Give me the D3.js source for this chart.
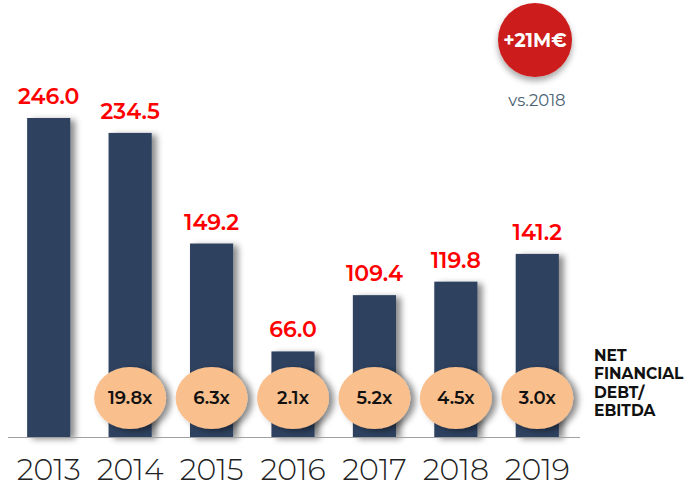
<!DOCTYPE html>
<html>
<head>
<meta charset="utf-8">
<script src="https://cdn.jsdelivr.net/npm/d3@7"></script>
<style>
  body { margin: 0; background: #fff; }
  svg text { font-family: "Montserrat", "Open Sans", sans-serif; }
</style>
</head>
<body>
<div id="wrapper"></div>
<script>
const years = ["2013", "2014", "2015", "2016", "2017", "2018", "2019"];
const debt = [246.0, 234.5, 149.2, 66.0, 109.4, 119.8, 141.2];
const ratioYears = ["2014", "2015", "2016", "2017", "2018", "2019"];
const ratios = ["19.8x", "6.3x", "2.1x", "5.2x", "4.5x", "3.0x"];
const ratioLabel = ["NET", "FINANCIAL", "DEBT/", "EBITDA"];
const badgeText = "+21M€";
const badgeSub = "vs.2018";

let dimensions = {
    width: 689,
    height: 489,
    baseline: 437,
}

const svg = d3.select("#wrapper")
    .append("svg")
    .attr("width", dimensions.width)
    .attr("height", dimensions.height)

const defs = svg.append("defs")
defs.append("filter")
    .attr("id", "shadow")
    .attr("x", "-30%").attr("y", "-10%")
    .attr("width", "170%").attr("height", "130%")
    .append("feDropShadow")
    .attr("dx", 5).attr("dy", 2)
    .attr("stdDeviation", 3)
    .attr("flood-color", "#000")
    .attr("flood-opacity", 0.45)

defs.append("filter")
    .attr("id", "badgeShadow")
    .attr("x", "-30%").attr("y", "-30%")
    .attr("width", "160%").attr("height", "170%")
    .append("feDropShadow")
    .attr("dx", 0).attr("dy", 4)
    .attr("stdDeviation", 3)
    .attr("flood-color", "#000")
    .attr("flood-opacity", 0.35)

const xScale = d3.scaleBand()
    .domain(years)
    .range([8, 578])
    .paddingInner(0.47)
    .paddingOuter(0.235)

const yScale = d3.scaleLinear()
    .domain([0, 246])
    .range([dimensions.baseline, 118])

// bars
svg.append("g")
    .selectAll("rect")
    .data(debt)
    .join("rect")
    .attr("x", (d, i) => xScale(years[i]))
    .attr("y", d => yScale(d))
    .attr("width", xScale.bandwidth())
    .attr("height", d => dimensions.baseline - yScale(d))
    .attr("fill", "#2e4261")
    .attr("filter", "url(#shadow)")

// baseline
svg.append("line")
    .attr("x1", 8).attr("x2", 580)
    .attr("y1", dimensions.baseline + 0.5).attr("y2", dimensions.baseline + 0.5)
    .attr("stroke", "#a0a0a0")
    .attr("stroke-width", 1.2)

// value labels
svg.append("g")
    .selectAll("text")
    .data(debt)
    .join("text")
    .attr("x", (d, i) => xScale(years[i]) + xScale.bandwidth() / 2)
    .attr("y", d => yScale(d) - 14)
    .attr("text-anchor", "middle")
    .attr("fill", "#ff0000")
    .attr("font-size", 22)
    .attr("font-weight", 600)
    .text(d => d.toFixed(1))

// year labels
svg.append("g")
    .selectAll("text")
    .data(years)
    .join("text")
    .attr("x", d => xScale(d) + xScale.bandwidth() / 2)
    .attr("y", 480)
    .attr("text-anchor", "middle")
    .attr("fill", "#222")
    .attr("font-size", 30)
    .attr("font-weight", 300)
    .text(d => d)

// ratio ellipses
const ratioG = svg.append("g")
    .selectAll("g")
    .data(ratios)
    .join("g")
    .attr("transform", (d, i) =>
        `translate(${xScale(ratioYears[i]) + xScale.bandwidth() / 2},398)`)

ratioG.append("ellipse")
    .attr("rx", 36).attr("ry", 31)
    .attr("fill", "#f9bf8d")
    .attr("filter", "url(#shadow)")

ratioG.append("text")
    .attr("y", 6)
    .attr("text-anchor", "middle")
    .attr("font-size", 18)
    .attr("font-weight", 600)
    .attr("fill", "#111")
    .text(d => d)

// ratio legend
svg.append("text")
    .attr("x", 594)
    .attr("y", 361)
    .attr("font-size", 15.5)
    .attr("font-weight", 700)
    .attr("fill", "#111")
    .selectAll("tspan")
    .data(ratioLabel)
    .join("tspan")
    .attr("x", 594)
    .attr("dy", (d, i) => i === 0 ? 0 : 18.3)
    .text(d => d)

// badge
svg.append("circle")
    .attr("cx", 535).attr("cy", 40)
    .attr("r", 37)
    .attr("fill", "#cc1d1d")
    .attr("filter", "url(#badgeShadow)")

svg.append("text")
    .attr("x", 535).attr("y", 47)
    .attr("text-anchor", "middle")
    .attr("font-size", 19)
    .attr("font-weight", 700)
    .attr("fill", "#fff")
    .text(badgeText)

svg.append("text")
    .attr("x", 537).attr("y", 106)
    .attr("text-anchor", "middle")
    .attr("font-size", 16.5)
    .attr("fill", "#4b6272")
    .text(badgeSub)
</script>
</body>
</html>
